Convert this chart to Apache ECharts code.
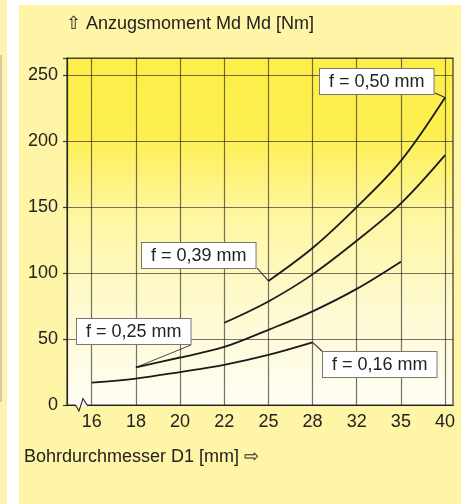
<!DOCTYPE html>
<html>
<head>
<meta charset="utf-8">
<script src="https://cdn.jsdelivr.net/npm/echarts@6/dist/echarts.min.js"></script>
<style>
  html, body { margin: 0; padding: 0; background: #ffffff; }
  #chart { width: 471px; height: 504px; }
</style>
</head>
<body>
<div id="chart"></div>
<script>
// Drill diameter classes (evenly spaced on the axis)
const diameters = ['16', '18', '20', '22', '25', '28', '32', '35', '40'];
const torqueTicks = [0, 50, 100, 150, 200, 250];

// Tightening torque Md [Nm] per diameter class, for each feed f (null = no value)
const feed016 = [17, 20, 25, 30.5, 38, 47.5, null, null, null];
const feed025 = [null, 28.5, 36, 44, 57, 71, 88, 108.6, null];
const feed039 = [null, null, null, 62.3, 78.5, 99, 124.5, 152.8, 189.4];
const feed050 = [null, null, null, null, 94, 119, 150, 185, 233];

const seriesNames = ['f = 0,16 mm', 'f = 0,25 mm', 'f = 0,39 mm', 'f = 0,50 mm'];

const FONT = '"Liberation Sans", Arial, Helvetica, sans-serif';
const INK = '#222222';

function toPoints(values) {
  const pts = [];
  values.forEach((v, i) => { if (v !== null) pts.push([i, v]); });
  return pts;
}

// callout: which point the leader starts at, and where the label box sits
const callouts = [
  { values: feed016, index: 5, box: [323, 352], end: [323, 352] },
  { values: feed025, index: 1, box: [77, 319], end: [191, 345] },
  { values: feed050, index: 4, box: [142, 243], end: [257, 268] },
  { values: feed050, index: 8, box: [320, 69], end: [435, 93] }
];

const chart = echarts.init(document.getElementById('chart'), null, { renderer: 'canvas' });

const lineSeries = [feed016, feed025, feed039, feed050].map((vals, k) => ({
  name: seriesNames[k],
  type: 'line',
  data: toPoints(vals),
  smooth: 0.35,
  showSymbol: false,
  symbol: 'none',
  lineStyle: { color: '#1a1a1a', width: 1.8 },
  z: 5,
  animation: false
}));

// Leader lines from the curves to the callout boxes
callouts.forEach((c, k) => {
  lineSeries.push({
    type: 'line',
    data: [],
    animation: false,
    markLine: {
      silent: true,
      symbol: 'none',
      animation: false,
      label: { show: false },
      lineStyle: { color: '#333333', width: k === 1 ? 0.9 : 1.1, type: 'solid' },
      data: [[
        { coord: [c.index, c.values[c.index]] },
        { x: c.end[0], y: c.end[1] }
      ]]
    }
  });
});

const labelNames = ['f = 0,16 mm', 'f = 0,25 mm', 'f = 0,39 mm', 'f = 0,50 mm'];

const AXIS_COLOR = 'rgba(25,25,25,0.85)';
const GRID_COLOR = 'rgba(30,30,30,0.62)';

const option = {
  animation: false,
  title: [
    {
      text: '\u21E7 Anzugsmoment Md Md [Nm]',
      left: 66, top: 15, padding: 0,
      textStyle: { fontFamily: FONT, fontSize: 18, fontWeight: 'normal', color: INK }
    },
    {
      text: 'Bohrdurchmesser D1 [mm] \u21E8',
      left: 24, top: 448, padding: 0,
      textStyle: { fontFamily: FONT, fontSize: 18, fontWeight: 'normal', color: INK }
    }
  ],
  grid: {
    left: 67, right: 18, top: 58, bottom: 99,
    show: true,
    borderColor: AXIS_COLOR,
    borderWidth: 1.2,
    backgroundColor: new echarts.graphic.LinearGradient(0, 0, 0, 1, [
      { offset: 0, color: '#fdee48' },
      { offset: 0.22, color: '#fdef50' },
      { offset: 0.44, color: '#fef69e' },
      { offset: 0.7, color: '#fef9cd' },
      { offset: 1, color: '#fffdf3' }
    ])
  },
  xAxis: {
    type: 'value',
    min: -0.56,
    max: 8.18,
    axisLine: { show: true, onZero: false, lineStyle: { color: AXIS_COLOR, width: 1.2 } },
    axisTick: { show: false, customValues: diameters.map((d, i) => i) },
    axisLabel: {
      customValues: diameters.map((d, i) => i),
      formatter: v => diameters[Math.round(v)],
      margin: 8,
      fontFamily: FONT, fontSize: 18, color: INK
    },
    splitLine: { show: true, lineStyle: { color: GRID_COLOR, width: 1.2 } }
  },
  yAxis: {
    type: 'value',
    min: 0,
    max: 263,
    interval: 50,
    axisLine: { show: true, onZero: false, lineStyle: { color: AXIS_COLOR, width: 1.2 } },
    axisTick: { show: true, length: 4, lineStyle: { color: AXIS_COLOR, width: 1.2 } },
    axisLabel: {
      margin: 9,
      formatter: v => (torqueTicks.indexOf(v) >= 0 ? String(v) : ''),
      fontFamily: FONT, fontSize: 18, color: INK
    },
    splitLine: { show: true, lineStyle: { color: GRID_COLOR, width: 1.2 } }
  },
  series: lineSeries,
  graphic: [
    // page panels
    { type: 'rect', z: -100, silent: true, shape: { x: 0, y: 0, width: 7, height: 504 }, style: { fill: '#fdf3b2' } },
    { type: 'line', z: -99, silent: true, shape: { x1: 1, y1: 55, x2: 1, y2: 402 }, style: { stroke: '#a9a58a', lineWidth: 1 } },
    { type: 'rect', z: -100, silent: true, shape: { x: 19, y: 5, width: 442, height: 499 }, style: { fill: '#fef5a6' } },
    // axis break on the diameter axis
    { type: 'rect', z: 100, silent: true, shape: { x: 76, y: 403, width: 11, height: 4 }, style: { fill: '#fffdf3' } },
    { type: 'polyline', z: 101, silent: true,
      shape: { points: [[75.5, 405], [79, 411], [83, 398.5], [87, 405]] },
      style: { stroke: '#222', lineWidth: 1.1, fill: null } }
  ].concat(callouts.map((c, k) => ({
    type: 'text', z: 110, silent: true,
    x: c.box[0], y: c.box[1],
    style: {
      text: labelNames[k],
      font: '18px ' + FONT,
      fill: INK,
      backgroundColor: '#ffffff',
      borderColor: '#777777',
      borderWidth: 1,
      padding: [3, 9, 2, 9],
      lineHeight: 20
    }
  })))
};

chart.setOption(option);
</script>
</body>
</html>
